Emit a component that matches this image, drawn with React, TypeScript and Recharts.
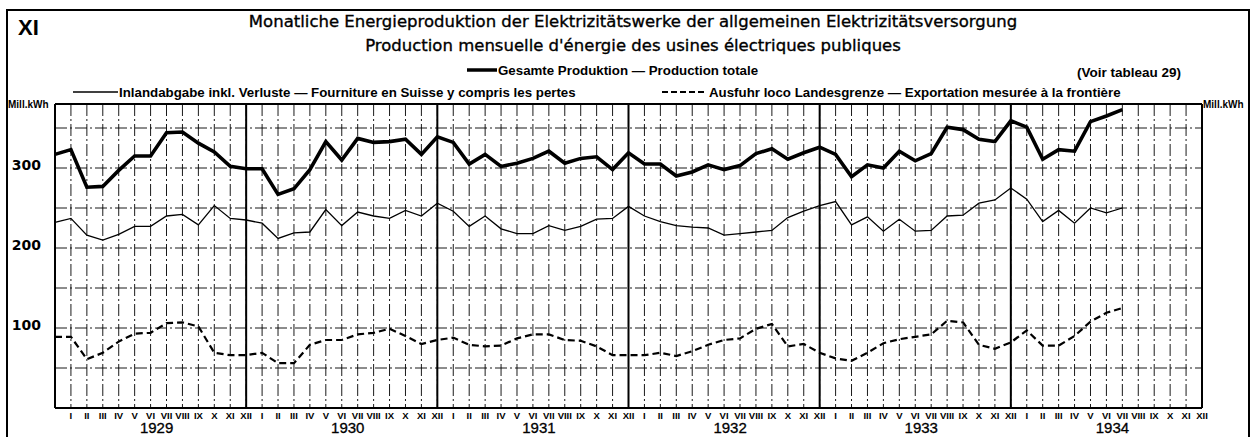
import React from 'react';
import { LineChart, Line, XAxis, YAxis, CartesianGrid, ReferenceLine } from 'recharts';

const monthLabels = ['I', 'II', 'III', 'IV', 'V', 'VI', 'VII', 'VIII', 'IX', 'X', 'XI', 'XII'];
const yearLabels = ['1929', '1930', '1931', '1932', '1933', '1934'];
const yTicks = [0, 50, 100, 150, 200, 250, 300, 350];

// index 0 = XII 1928, then 1929 I ... 1934 VII
const totalProduction = [
  317,
  323, 276, 277, 297, 315, 315, 344, 345, 331, 320, 302, 299,
  299, 267, 274, 298, 333, 310, 337, 332, 333, 336, 317, 339,
  332, 305, 317, 302, 306, 312, 321, 306, 312, 314, 298, 319,
  305, 305, 290, 295, 304, 298, 303, 318, 324, 311, 319, 326,
  317, 289, 304, 300, 321, 309, 318, 351, 348, 336, 333, 359,
  351, 311, 323, 321, 358, 365, 373,
];
const inlandSupply = [
  232,
  237, 216, 210, 217, 227, 227, 240, 242, 229, 253, 237, 235,
  231, 212, 219, 220, 248, 228, 245, 240, 237, 247, 240, 256,
  246, 227, 240, 224, 218, 218, 228, 222, 227, 236, 237, 252,
  240, 233, 228, 226, 225, 216, 218, 220, 222, 238, 246, 253,
  258, 229, 239, 221, 236, 221, 222, 240, 241, 256, 260, 275,
  261, 233, 247, 231, 250, 244, 250,
];
const exportValues = [
  89,
  89, 61, 69, 83, 93, 94, 106, 107, 102, 69, 66, 66,
  69, 56, 56, 79, 85, 85, 92, 94, 99, 90, 80, 85,
  88, 79, 77, 78, 87, 92, 92, 85, 84, 77, 66, 66,
  66, 69, 65, 71, 79, 85, 87, 99, 105, 77, 80, 69,
  62, 59, 69, 81, 86, 89, 92, 109, 107, 79, 74, 82,
  97, 78, 78, 90, 108, 119, 125,
];

const data = totalProduction.map((t, i) => ({
  i,
  total: t,
  inland: inlandSupply[i],
  exp: exportValues[i],
}));

const xTicks = Array.from({ length: 73 }, (_, k) => k);
const yearBounds = [12, 24, 36, 48, 60];
const FONT = '"Liberation Sans", Arial, sans-serif';
const WIDE = '"DejaVu Sans", sans-serif';

const MonthTick = (props: any) => {
  const { x, y, payload } = props;
  const v = payload.value as number;
  if (v === 0) return null;
  const m = (v - 1) % 12;
  const yr = Math.floor((v - 1) / 12);
  return (
    <g>
      <text x={x} y={y + 3} textAnchor="middle" fontSize={9.5} fontWeight="bold" fontFamily={FONT} fill="#000">
        {monthLabels[m]}
      </text>
      {m === 5 ? (
        <text x={x + 6} y={y + 17} textAnchor="middle" fontSize={15} fontFamily={FONT} fill="#000" stroke="#000" strokeWidth={0.3}>
          {yearLabels[yr]}
        </text>
      ) : null}
    </g>
  );
};

const fmt = (v: number) => (v > 0 && v % 100 === 0 ? String(v) : '');

export default function App() {
  return (
    <div style={{ position: 'absolute', left: 0, top: 0, width: 1258, height: 437, background: '#fff', overflow: 'hidden' }}>
      <LineChart
        width={1258}
        height={437}
        data={data}
        margin={{ top: 104, right: 0, bottom: 0, left: 0 }}
      >
        <CartesianGrid
          yAxisId="l"
          stroke="#000"
          strokeWidth={0.9}
          strokeDasharray="12 3 2 3"
        />
        <XAxis
          dataKey="i"
          type="number"
          domain={[0, 72]}
          ticks={xTicks}
          interval={0}
          height={29}
          tick={<MonthTick />}
          tickLine={false}
          axisLine={{ stroke: '#000', strokeWidth: 2 }}
        />
        <YAxis
          yAxisId="l"
          orientation="left"
          width={55}
          domain={[0, 380]}
          ticks={yTicks}
          tickFormatter={fmt}
          tickLine={false}
          axisLine={{ stroke: '#000', strokeWidth: 2 }}
          tick={{ fontSize: 14, fontWeight: 'bold', fill: '#000', fontFamily: WIDE, dy: -3 }}
          tickMargin={8}
        />
        <YAxis
          yAxisId="r"
          orientation="right"
          width={56}
          domain={[0, 380]}
          ticks={yTicks}
          tickFormatter={fmt}
          tickLine={false}
          axisLine={{ stroke: '#000', strokeWidth: 2 }}
          tick={{ fontSize: 14, fontWeight: 'bold', fill: '#000', fontFamily: WIDE, dy: -3 }}
          tickMargin={11}
        />
        <ReferenceLine yAxisId="l" y={380} stroke="#000" strokeWidth={2} />
        {yearBounds.map((b) => (
          <ReferenceLine key={b} yAxisId="l" x={b} stroke="#000" strokeWidth={2} />
        ))}
        <Line
          yAxisId="l"
          dataKey="total"
          type="linear"
          stroke="#000"
          strokeWidth={3.6}
          dot={false}
          isAnimationActive={false}
        />
        <Line
          yAxisId="l"
          dataKey="inland"
          type="linear"
          stroke="#000"
          strokeWidth={1.3}
          dot={false}
          isAnimationActive={false}
        />
        <Line
          yAxisId="l"
          dataKey="exp"
          type="linear"
          stroke="#000"
          strokeWidth={2.2}
          strokeDasharray="7 4"
          dot={false}
          isAnimationActive={false}
        />
      </LineChart>
      <svg
        width={1258}
        height={437}
        style={{ position: 'absolute', left: 0, top: 0, pointerEvents: 'none' }}
        fontFamily={FONT}
      >
        <rect x={7} y={10} width={1242} height={450} fill="none" stroke="#000" strokeWidth={2} />
        <text x={18} y={35} fontSize={22} fontWeight="bold" fill="#000">XI</text>
        <text x={633} y={27} textAnchor="middle" fontSize={16.5} fontFamily={WIDE} fill="#000" stroke="#000" strokeWidth={0.35}>
          Monatliche Energieproduktion der Elektrizitätswerke der allgemeinen Elektrizitätsversorgung
        </text>
        <text x={633} y={51} textAnchor="middle" fontSize={16.5} fontFamily={WIDE} fill="#000" stroke="#000" strokeWidth={0.35}>
          Production mensuelle d'énergie des usines électriques publiques
        </text>
        <line x1={467} x2={497} y1={70} y2={70} stroke="#000" strokeWidth={3.5} />
        <text x={498} y={74.5} fontSize={13.3} fontWeight="bold" fill="#000">
          Gesamte Produktion — Production totale
        </text>
        <text x={1077} y={76.5} fontSize={13.5} fontWeight="bold" fill="#000">
          (Voir tableau 29)
        </text>
        <line x1={73} x2={118} y1={92} y2={92} stroke="#000" strokeWidth={1.3} />
        <text x={119} y={96.5} fontSize={13.3} fontWeight="bold" fill="#000">
          Inlandabgabe inkl. Verluste — Fourniture en Suisse y compris les pertes
        </text>
        <line x1={662} x2={704} y1={92} y2={92} stroke="#000" strokeWidth={2} strokeDasharray="6 3" />
        <text x={709} y={96.5} fontSize={13.3} fontWeight="bold" fill="#000">
          Ausfuhr loco Landesgrenze — Exportation mesurée à la frontière
        </text>
        <text x={8} y={108} fontSize={10} fontWeight="bold" fill="#000">Mill.kWh</text>
        <text x={1203} y={108} fontSize={10} fontWeight="bold" fill="#000">Mill.kWh</text>
      </svg>
    </div>
  );
}
